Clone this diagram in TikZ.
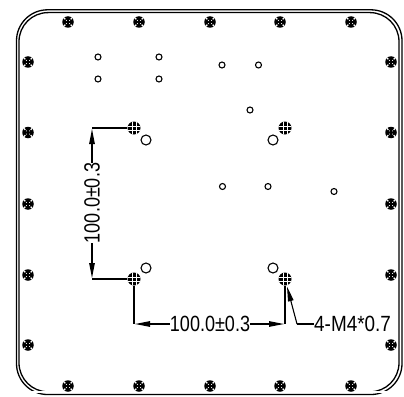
\documentclass[tikz,border=0pt]{standalone}
\usepackage{fontspec}
\usepackage{tikz}
\setmainfont{Liberation Sans}
\usetikzlibrary{arrows.meta}

\tikzset{
  dimline/.style={line width=1.1pt},
  dimtip/.style={-{Triangle[length=15pt,width=5.5pt]}, shorten >=1pt, line width=1.1pt},
  dimtext/.style={inner sep=0pt, font=\fontsize{22}{22}\selectfont},
  frameline/.style={line width=1.3pt},
  smallhole/.style={draw, circle, line width=1.1pt, minimum size=6pt, inner sep=0pt},
  bighole/.style={draw, circle, line width=1.1pt, minimum size=10pt, inner sep=0pt},
  notch/.style={white, line width=1.4pt},
  speck/.style={white, line width=0.8pt},
  screw/.style={fill, circle, minimum size=11.5pt, inner sep=0pt,
    path picture={\draw[notch] (path picture bounding box.center) ++(2.7pt,2.7pt) -- ++(3pt,3pt);
      \draw[notch] (path picture bounding box.center) ++(-2.7pt,2.7pt) -- ++(-3pt,3pt);
      \draw[notch] (path picture bounding box.center) ++(2.7pt,-2.7pt) -- ++(3pt,-3pt);
      \draw[notch] (path picture bounding box.center) ++(-2.7pt,-2.7pt) -- ++(-3pt,-3pt);
      \draw[speck] (path picture bounding box.center) ++(1.3pt,1.3pt) -- ++(0.5pt,0.5pt);
      \draw[speck] (path picture bounding box.center) ++(-1.3pt,1.3pt) -- ++(-0.5pt,0.5pt);
      \draw[speck] (path picture bounding box.center) ++(1.3pt,-1.3pt) -- ++(0.5pt,-0.5pt);
      \draw[speck] (path picture bounding box.center) ++(-1.3pt,-1.3pt) -- ++(-0.5pt,-0.5pt);}},
  thread/.style={fill, circle, minimum size=13pt, inner sep=0pt,
    path picture={\draw[white, line width=0.4pt] (path picture bounding box.center) ++(-7pt,-2pt) -- ++(14pt,0);
      \draw[white, line width=0.4pt] (path picture bounding box.center) ++(-7pt,2pt) -- ++(14pt,0);
      \draw[white, line width=0.4pt] (path picture bounding box.center) ++(-2pt,-7pt) -- ++(0,14pt);
      \draw[white, line width=0.4pt] (path picture bounding box.center) ++(2pt,-7pt) -- ++(0,14pt);}},
}

\begin{document}
\begin{tikzpicture}[x=1pt,y=-1pt]
\useasboundingbox (0,0) rectangle (404,396);
% Plate outline
\draw[frameline, rounded corners=31pt] (16.5,9.8) rectangle (402,394.5);
\draw[frameline, rounded corners=29pt] (19,12.6) rectangle (399,391.8);
\fill[white] (21,391) rectangle (397,393.2);

% Screws along the top edge
\node[screw] (top1) at (68,22) {};
\node[screw] (top2) at (139,22) {};
\node[screw] (top3) at (210,22) {};
\node[screw] (top4) at (280,22) {};
\node[screw] (top5) at (351,22) {};
% Screws along the bottom edge
\node[screw] (bot1) at (68,386) {};
\node[screw] (bot2) at (139,386) {};
\node[screw] (bot3) at (210,386) {};
\node[screw] (bot4) at (280,386) {};
\node[screw] (bot5) at (351,386) {};
% Screws along the left edge
\node[screw] (lft1) at (28,62) {};
\node[screw] (lft2) at (28,132.5) {};
\node[screw] (lft3) at (28,204) {};
\node[screw] (lft4) at (28,275) {};
\node[screw] (lft5) at (28,345) {};
% Screws along the right edge
\node[screw] (rgt1) at (391,62) {};
\node[screw] (rgt2) at (391,132.5) {};
\node[screw] (rgt3) at (391,204) {};
\node[screw] (rgt4) at (391,275) {};
\node[screw] (rgt5) at (391,345) {};

% Small holes
\node[smallhole] (hole1) at (98,57) {};
\node[smallhole] (hole2) at (98,79) {};
\node[smallhole] (hole3) at (159,57) {};
\node[smallhole] (hole4) at (159,79) {};
\node[smallhole] (hole5) at (222,65) {};
\node[smallhole] (hole6) at (258.5,65) {};
\node[smallhole] (hole7) at (250,110) {};
\node[smallhole] (hole8) at (222.5,186.5) {};
\node[smallhole] (hole9) at (268,186.5) {};
\node[smallhole] (hole10) at (334,191.5) {};

% Larger holes next to the threaded ones
\node[bighole] (pin1) at (146,140) {};
\node[bighole] (pin2) at (273,140) {};
\node[bighole] (pin3) at (146,268) {};
\node[bighole] (pin4) at (273,268) {};

% Threaded holes
\node[thread] (tapA) at (134,128) {};
\node[thread] (tapB) at (285,128) {};
\node[thread] (tapC) at (134,279) {};
\node[thread] (tapD) at (285,279) {};

% Vertical dimension
\node[dimtext, rotate=90] (dimV) at (92,203) {\scalebox{0.82}[1]{100.0±0.3}};
\coordinate (cornerA) at (92,128);
\coordinate (cornerC) at (92,279);
\draw[dimline] (tapA) -- (cornerA);
\draw[dimtip] (dimV.east) -- (cornerA);
\draw[dimtip] (dimV.west) -- (cornerC);
\draw[dimline] (cornerC) -- (tapC);

% Horizontal dimension
\node[dimtext] (dimH) at (210,324) {\scalebox{0.82}[1]{100.0±0.3}};
\coordinate (footC) at (134,324);
\coordinate (footD) at (285,324);
\draw[dimline] (tapC) -- (footC);
\draw[dimtip] (dimH.west) -- (footC);
\draw[dimtip] (dimH.east) -- (footD);
\draw[dimline] (footD) -- (tapD);

% Thread callout
\node[dimtext, anchor=west] (callout) at (314,324) {\scalebox{0.86}[1]{4-M4*0.7}};
\coordinate (elbow) at (297,324);
\draw[dimline] (callout.west) -- (elbow);
\draw[dimtip] (elbow) -- (tapD);
\end{tikzpicture}
\end{document}
